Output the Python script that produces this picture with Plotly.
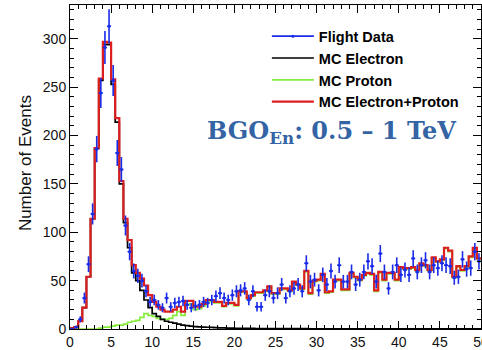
import numpy as np
import plotly.graph_objects as go

# ---------------- data (bin width 0.5, range 0-50) ----------------
bin_width = 0.5
n_bins = 100

flight_data = [
    0, 2, 10, 32, 67, 119, 186, 244, 291, 313,
    257, 182, 165, 107, 80, 60, 55, 50, 39, 28,
    30, 25, 22, 32, 23, 27, 28, 29, 25, 22,
    24, 25, 28, 27, 30, 34, 37, 32, 30, 35,
    39, 40, 42, 30, 39, 23, 23, 35, 39, 32,
    37, 46, 32, 39, 42, 46, 39, 68, 49, 51,
    40, 56, 46, 60, 49, 66, 49, 49, 59, 46,
    51, 59, 70, 65, 49, 78, 59, 42, 59, 66,
    56, 61, 56, 73, 59, 66, 71, 59, 66, 63,
    68, 66, 65, 53, 54, 72, 62, 63, 80, 70,
]

mc_electron = [
    1, 2, 8, 22, 54, 114, 187, 257, 294, 294,
    253, 214, 150, 110, 84, 58, 50, 40, 30, 22,
    16, 13, 10, 8, 7, 6, 5, 4, 3.5, 3,
    2.5, 2.2, 2, 1.8, 1.6, 1.4, 1.2, 1.1, 1, 0.9,
    0.8, 0.7, 0.7, 0.6, 0.6, 0.5, 0.5, 0.5, 0.5, 0.4,
    0.4, 0.4, 0.4, 0.3, 0.3, 0.3, 0.3, 0.3, 0.2, 0.2,
    0.2, 0.2, 0.2, 0.2, 0.2, 0.1, 0.1, 0.1, 0.1, 0.1,
    0.1, 0.1, 0.1, 0.1, 0.1, 0.1, 0.1, 0.1, 0.1, 0.1,
    0.1, 0.1, 0.1, 0.1, 0.1, 0.1, 0.1, 0.1, 0.1, 0.1,
    0.1, 0.1, 0.1, 0.1, 0.1, 0.1, 0.1, 0.1, 0.1, 0.1,
]

mc_proton = [
    0, 0, 0, 0, 0, 0, 0, 1, 2, 2,
    3, 4, 4, 5, 7, 8, 9, 12, 16, 14,
    13, 11, 10, 10, 11, 14, 18, 14, 25, 26,
    20, 21, 24, 28, 29, 27, 27, 23, 26, 26,
    24, 38, 38, 31, 34, 37, 37, 39, 43, 36,
    36, 41, 41, 39, 48, 45, 41, 59, 36, 49,
    50, 56, 37, 38, 50, 50, 40, 40, 57, 53,
    50, 55, 57, 56, 39, 58, 50, 57, 57, 50,
    63, 62, 62, 63, 60, 67, 65, 60, 73, 69,
    71, 83, 80, 53, 64, 60, 64, 74, 83, 72,
]

mc_sum = [
    1, 2, 8, 22, 54, 114, 187, 259, 297, 296,
    258, 218, 153, 114, 92, 66, 58, 52, 45, 35,
    28, 23, 20, 18, 18, 20, 23, 18, 29, 29,
    23, 23, 26, 30, 30, 28, 28, 24, 27, 27,
    25, 39, 39, 32, 35, 38, 38, 40, 44, 37,
    37, 42, 42, 40, 49, 46, 42, 60, 37, 50,
    51, 57, 38, 39, 51, 51, 41, 41, 58, 54,
    51, 56, 58, 57, 40, 59, 51, 58, 58, 51,
    64, 63, 63, 64, 61, 68, 66, 61, 74, 70,
    72, 84, 81, 54, 65, 61, 65, 75, 84, 73,
]

x_ticks = [0, 5, 10, 15, 20, 25, 30, 35, 40, 45, 50]
y_ticks = [0, 50, 100, 150, 200, 250, 300]

legend_names = ["Flight Data", "MC Electron", "MC Proton", "MC Electron+Proton"]

# ---------------- derived bin geometry ----------------
edges = np.arange(n_bins + 1) * bin_width
centers = edges[:-1] + bin_width / 2


def step_y(vals):
    return list(vals) + [vals[-1]]


C_DATA = "#1a2ce8"
C_ELE = "#000000"
C_PRO = "#86ec3c"
C_SUM = "#dc1e1e"

fig = go.Figure()

fig.add_trace(go.Scatter(x=edges, y=step_y(mc_proton), mode="lines", line_shape="hv",
                         line=dict(color=C_PRO, width=1.7), name=legend_names[2],
                         legendrank=3))
fig.add_trace(go.Scatter(x=edges, y=step_y(mc_electron), mode="lines", line_shape="hv",
                         line=dict(color=C_ELE, width=1.7), name=legend_names[1],
                         legendrank=2))
fig.add_trace(go.Scatter(x=edges, y=step_y(mc_sum), mode="lines", line_shape="hv",
                         line=dict(color=C_SUM, width=2.2), name=legend_names[3],
                         legendrank=4))
fig.add_trace(go.Scatter(x=centers, y=flight_data, mode="markers",
                         marker=dict(color=C_DATA, size=3),
                         error_y=dict(type="data", array=np.sqrt(flight_data), width=0,
                                      thickness=1.6, color=C_DATA),
                         error_x=dict(type="constant", value=bin_width / 2, width=0,
                                      thickness=1.6, color=C_DATA),
                         showlegend=False))
# legend-only entry for the data (line with dot, as in ROOT)
fig.add_trace(go.Scatter(x=[None], y=[None], mode="lines+markers",
                         line=dict(color=C_DATA, width=1.6),
                         marker=dict(color=C_DATA, size=3),
                         name=legend_names[0], legendrank=1))

axis_common = dict(
    showline=True, linecolor="#000", linewidth=1, mirror="allticks",
    ticks="inside", ticklen=8, tickwidth=1, tickcolor="#000",
    showgrid=False, zeroline=False, automargin=False,
    tickfont=dict(family="Liberation Sans, Arial, sans-serif", size=14, color="#111"),
)

fig.update_xaxes(range=[0, 50], tickvals=x_ticks, ticklabeloverflow="allow",
                 minor=dict(dtick=1, tick0=0, ticklen=4, ticks="inside", tickcolor="#000"),
                 **axis_common)
fig.update_yaxes(range=[0, 335], tickvals=y_ticks,
                 minor=dict(dtick=10, tick0=0, ticklen=4, ticks="inside", tickcolor="#000"),
                 **axis_common)

fig.update_layout(
    width=482, height=350,
    margin=dict(l=70, r=1, t=5, b=21, autoexpand=False),
    paper_bgcolor="white", plot_bgcolor="white",
    showlegend=True,
    legend=dict(x=0.479, y=0.953, xanchor="left", yanchor="top",
                bgcolor="rgba(0,0,0,0)", borderwidth=0, itemwidth=42,
                font=dict(family="Liberation Sans, Arial, sans-serif", size=14.5,
                          color="#000", weight="bold"),
                traceorder="normal"),
    annotations=[
        dict(text="Number of Events", textangle=-90, xref="paper", yref="paper",
             x=-0.1095, y=0.512, xanchor="center", yanchor="middle", showarrow=False,
             font=dict(family="Liberation Sans, Arial, sans-serif", size=17, color="#111")),
        dict(text="<b>BGO<sub>En</sub>: 0.5 – 1 TeV</b>", xref="paper", yref="paper",
             x=0.636, y=0.608, xanchor="center", yanchor="middle", showarrow=False,
             font=dict(family="DejaVu Serif, Liberation Serif, serif", size=24,
                       color="#3464a4")),
    ],
)

fig.write_html("out.html")
